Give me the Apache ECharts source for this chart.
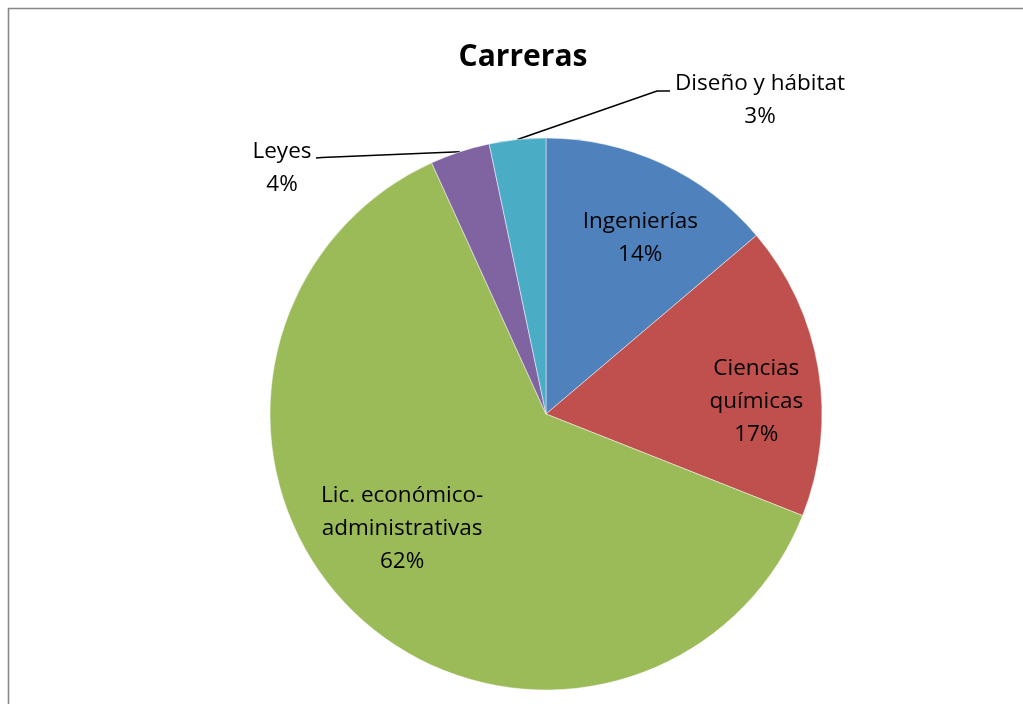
<!DOCTYPE html>
<html>
<head>
<meta charset="utf-8">
<script src="https://cdn.jsdelivr.net/npm/echarts@6/dist/echarts.min.js"></script>
<style>
html,body{margin:0;padding:0;background:#fff;}
#chart{width:1023px;height:704px;}
</style>
</head>
<body>
<div id="chart"></div>
<script>
// Data
var titleText = 'Carreras';
var categories = ['Ingenierías', 'Ciencias\nquímicas', 'Lic. económico-\nadministrativas', 'Leyes', 'Diseño y hábitat'];
var values = [13.8, 17.2, 62.2, 3.5, 3.3];
var colors = ['#4F81BD', '#C0504D', '#9BBB59', '#8064A2', '#4BACC6'];

var FONT = 'Open Sans';
var R = 276;
var CX = 546, CY = 414;
var smallLimit = 5; // percent below which labels go outside

var total = values.reduce(function (a, b) { return a + b; }, 0);
function isSmall(i) { return values[i] / total * 100 < smallLimit; }

var fmt = function (p) { return p.name + '\n' + Math.round(p.percent) + '%'; };
var labelText = { color: '#000', fontFamily: FONT, fontSize: 22.5, lineHeight: 33 };

var mainData = categories.map(function (c, i) {
  return {
    name: c, value: values[i],
    itemStyle: { color: colors[i] },
    label: isSmall(i) ? Object.assign({ show: true, position: 'outside', formatter: fmt }, labelText) : { show: false },
    labelLine: { show: isSmall(i), lineStyle: { color: '#000', width: 1.6 }, length: 20, length2: 20 }
  };
});
var overlayData = categories.map(function (c, i) {
  return {
    name: c, value: values[i],
    itemStyle: { color: 'rgba(0,0,0,0)' },
    label: isSmall(i) ? { show: false } : Object.assign({ show: true, position: 'inside', formatter: fmt }, labelText)
  };
});

// label placement (styling)
var outsidePos = {
  3: { x: 282, y: 168.5, line: [[322, 157.5], [316, 158]] },
  4: { x: 760, y: 100.5, line: [[657, 91], [670, 91]] }
};
var insideShift = { 0: [9, 8], 1: [10, 21], 2: [-4, -33] };

var chart = echarts.init(document.getElementById('chart'), null, { renderer: 'canvas' });
chart.setOption({
  backgroundColor: '#fff',
  animation: false,
  title: {
    text: titleText, left: 518, top: 37, textAlign: 'center',
    textStyle: { fontFamily: FONT, fontSize: 30, fontWeight: 'bold', color: '#000' }
  },
  graphic: [{
    type: 'polyline', silent: true,
    shape: { points: [[8.5, 704], [8.5, 8.5], [1023, 8.5]] },
    style: { stroke: '#878787', lineWidth: 1.6, fill: null }
  }],
  series: [{
    type: 'pie',
    center: [CX, CY],
    radius: [0, R],
    startAngle: 90,
    clockwise: true,
    silent: true,
    itemStyle: { borderColor: 'rgba(255,255,255,0.6)', borderWidth: 0.8 },
    data: mainData,
    labelLayout: function (p) {
      var pos = outsidePos[p.dataIndex];
      if (!pos) return {};
      var out = { x: pos.x, y: pos.y, align: 'center', verticalAlign: 'middle' };
      if (p.labelLinePoints && p.labelLinePoints.length) {
        out.labelLinePoints = [p.labelLinePoints[0]].concat(pos.line);
      }
      return out;
    }
  }, {
    type: 'pie',
    center: [CX, CY],
    radius: [124, R],
    startAngle: 90,
    clockwise: true,
    silent: true,
    data: overlayData,
    labelLine: { show: false },
    labelLayout: function (p) {
      var s = insideShift[p.dataIndex];
      return s ? { dx: s[0], dy: s[1] } : {};
    }
  }]
});
</script>
</body>
</html>
